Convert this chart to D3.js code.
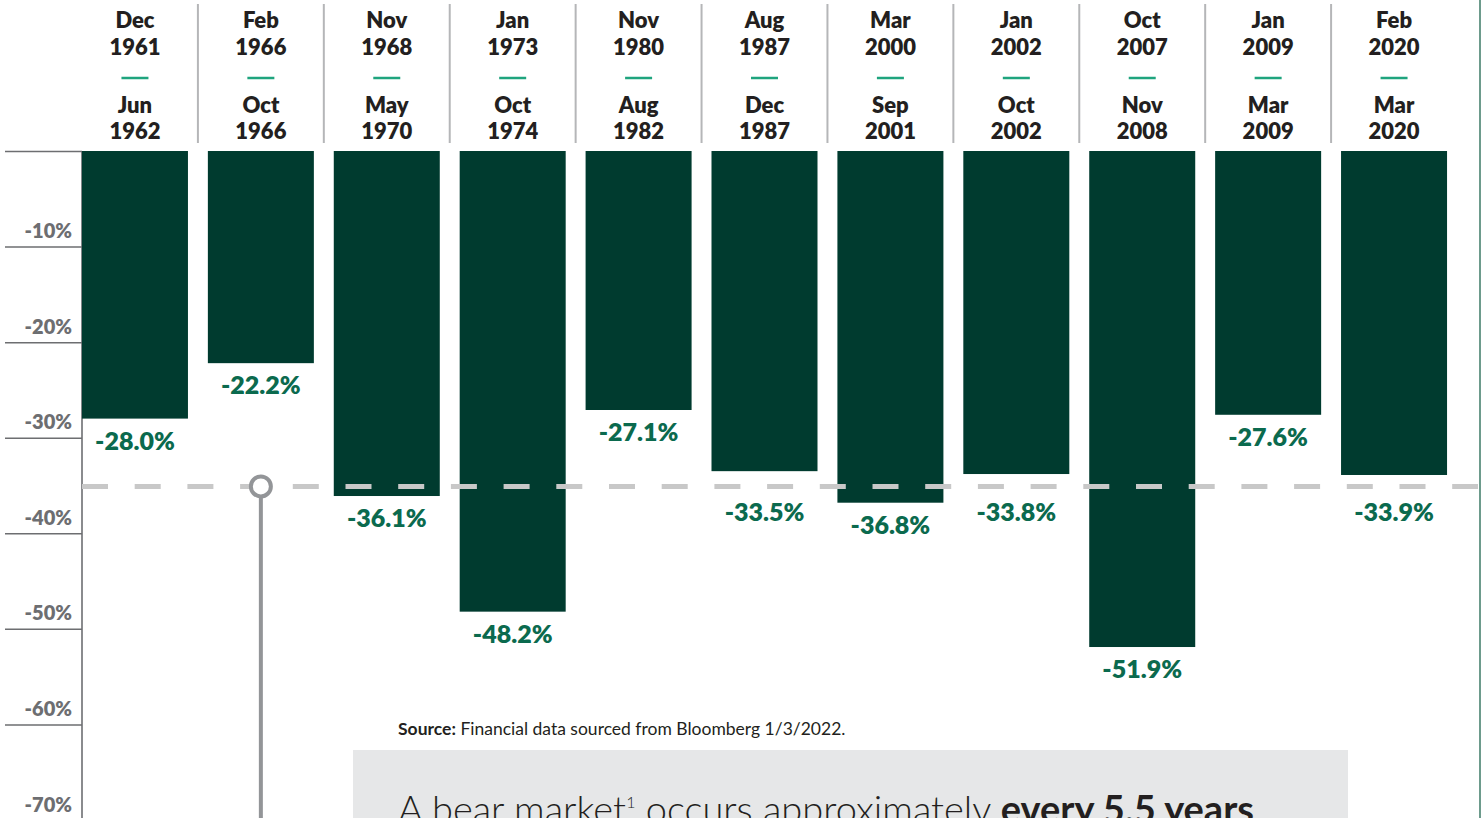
<!DOCTYPE html>
<html>
<head>
<meta charset="utf-8">
<script src="https://cdn.jsdelivr.net/npm/d3@7"></script>
<style>
	body { margin: 0; background: #fff; }
	svg { display: block; font-family: Lato, "Open Sans", sans-serif; }
	.axis--y .domain { stroke: #8a8b8e; stroke-width: 2px; }
	.axis--y .tick line { stroke: #6d6e71; stroke-width: 1.5px; }
	.axis--y .tick text { fill: #6d6e71; font-size: 20px; font-weight: 800; font-family: Lato, sans-serif; }
</style>
</head>
<body>
<div id="container"></div>
<script>
	// periods (start / end) and peak-to-trough declines
	var startMonths = ["Dec", "Feb", "Nov", "Jan", "Nov", "Aug", "Mar", "Jan", "Oct", "Jan", "Feb"];
	var startYears = ["1961", "1966", "1968", "1973", "1980", "1987", "2000", "2002", "2007", "2009", "2020"];
	var endMonths = ["Jun", "Oct", "May", "Oct", "Aug", "Dec", "Sep", "Oct", "Nov", "Mar", "Mar"];
	var endYears = ["1962", "1966", "1970", "1974", "1982", "1987", "2001", "2002", "2008", "2009", "2020"];
	var declines = [-28.0, -22.2, -36.1, -48.2, -27.1, -33.5, -36.8, -33.8, -51.9, -27.6, -33.9];
	var yTicks = [0, -10, -20, -30, -40, -50, -60, -70];
	var avgDecline = -35.1;

	var width = 1481, height = 818;
	var top0 = 151;

	var svg = d3.select("#container").append("svg")
		.attr("width", width)
		.attr("height", height);

	var keys = startYears.map(function(d, i) { return i; });

	var x = d3.scaleBand()
		.domain(keys)
		.range([72, 1457])
		.padding(0);

	var y = d3.scaleLinear()
		.domain([0, -70])
		.range([top0, top0 + 669]);

	var barW = 106;
	var avgY = y(avgDecline);

	// column separators in header
	svg.append("g").selectAll("line")
		.data(keys.slice(1))
		.join("line")
		.attr("x1", function(d) { return x(d); })
		.attr("x2", function(d) { return x(d); })
		.attr("y1", 4)
		.attr("y2", 143)
		.style("stroke", "#b5b6b8")
		.style("stroke-width", 2);

	// header labels
	var head = svg.append("g").selectAll("g")
		.data(keys)
		.join("g")
		.attr("transform", function(d) { return "translate(" + (x(d) + x.bandwidth() / 2) + ",0)"; });

	function headText(arr, yy) {
		head.append("text")
			.attr("y", yy)
			.attr("text-anchor", "middle")
			.style("font-size", "22px")
			.style("font-weight", 800)
			.style("fill", "#231f20")
			.text(function(d) { return arr[d]; });
	}
	headText(startMonths, 28);
	headText(startYears, 55);
	headText(endMonths, 113);
	headText(endYears, 139);

	head.append("line")
		.attr("x1", -13.5)
		.attr("x2", 13.5)
		.attr("y1", 78)
		.attr("y2", 78)
		.style("stroke", "#1fa47e")
		.style("stroke-width", 2.5);

	// y axis
	var yAxis = svg.append("g")
		.attr("class", "axis axis--y")
		.attr("transform", "translate(82,0)")
		.call(d3.axisLeft(y)
			.tickValues(yTicks)
			.tickSize(77)
			.tickSizeOuter(0)
			.tickFormat(function(d) { return d === 0 ? "" : d + "%"; }));
	yAxis.selectAll(".tick text")
		.attr("x", -10)
		.attr("dy", "-0.45em");
	yAxis.select(".domain").attr("d", "M0," + top0 + "V" + height);

	// bars
	svg.append("g").selectAll("rect")
		.data(keys)
		.join("rect")
		.attr("x", function(d) { return x(d) + (x.bandwidth() - barW) / 2; })
		.attr("y", y(0))
		.attr("width", barW)
		.attr("height", function(d) { return y(declines[d]) - y(0); })
		.attr("fill", "#003b2f");

	// value labels, pushed below the average line when they would touch it
	svg.append("g").selectAll("text")
		.data(keys)
		.join("text")
		.attr("x", function(d) { return x(d) + x.bandwidth() / 2; })
		.attr("y", function(d) {
			var yy = y(declines[d]) + 31;
			if (yy > avgY - 4 && yy < avgY + 34) yy = avgY + 35;
			return yy;
		})
		.attr("text-anchor", "middle")
		.style("font-size", "25px")
		.style("font-weight", 800)
		.style("fill", "#0b6a4e")
		.text(function(d) { return declines[d].toFixed(1) + "%"; });

	// average line
	svg.append("line")
		.attr("x1", 82)
		.attr("x2", 1478)
		.attr("y1", avgY)
		.attr("y2", avgY)
		.style("stroke", "#c8c8c8")
		.style("stroke-width", 5)
		.style("stroke-dasharray", "26,26.7");

	// callout marker
	var cx = x(1) + x.bandwidth() / 2;
	svg.append("line")
		.attr("x1", cx)
		.attr("x2", cx)
		.attr("y1", avgY + 11)
		.attr("y2", height)
		.style("stroke", "#939598")
		.style("stroke-width", 4);
	svg.append("circle")
		.attr("cx", cx)
		.attr("cy", avgY)
		.attr("r", 10)
		.attr("fill", "#fff")
		.style("stroke", "#939598")
		.style("stroke-width", 4);

	// right border
	svg.append("line")
		.attr("x1", 1480)
		.attr("x2", 1480)
		.attr("y1", 0)
		.attr("y2", height)
		.style("stroke", "#3d7a66")
		.style("stroke-width", 1.5);

	// source note
	var src = svg.append("text")
		.attr("x", 398)
		.attr("y", 735)
		.style("font-size", "17.5px")
		.style("fill", "#231f20");
	src.append("tspan").style("font-weight", 700).text("Source:");
	src.append("tspan").text(" Financial data sourced from Bloomberg 1/3/2022.");

	// callout box
	svg.append("rect")
		.attr("x", 353)
		.attr("y", 750)
		.attr("width", 995)
		.attr("height", 100)
		.attr("fill", "#e6e7e8");

	var box = svg.append("text")
		.attr("x", 398)
		.attr("y", 823)
		.style("font-size", "38px")
		.style("font-weight", 300)
		.style("fill", "#231f20");
	box.append("tspan").text("A bear market");
	box.append("tspan").attr("dy", -15).style("font-size", "16px").text("1");
	box.append("tspan").attr("dy", 15).text(" occurs approximately ");
	box.append("tspan").style("font-weight", 700).text("every 5.5 years");
</script>
</body>
</html>
